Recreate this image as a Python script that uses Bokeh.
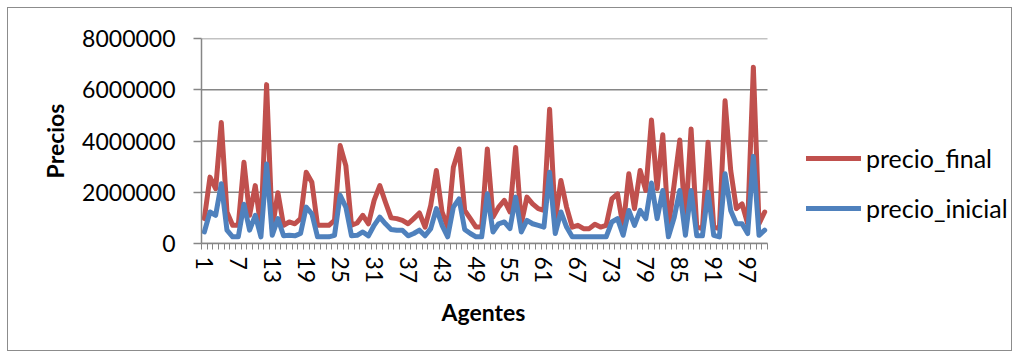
from bokeh.plotting import figure
from bokeh.models import (FixedTicker, BasicTickFormatter, Legend, LegendItem,
                          ColumnDataSource, Title)
from bokeh.embed import file_html
from bokeh.resources import INLINE

# Agent index and prices per agent
agentes = list(range(1, 101))
precio_final = [
    970000, 2590000, 2140000, 4720000, 1230000, 710000, 710000, 3170000, 1100000, 2260000,
    580000, 6200000, 580000, 1980000, 710000, 840000, 770000, 970000, 2780000, 2390000,
    710000, 710000, 710000, 900000, 3820000, 3040000, 710000, 800000, 1100000, 770000,
    1680000, 2260000, 1610000, 1000000, 970000, 900000, 770000, 970000, 1190000, 640000,
    1490000, 2850000, 1230000, 640000, 2980000, 3690000, 1290000, 970000, 640000, 640000,
    3690000, 1030000, 1420000, 1680000, 1230000, 3750000, 770000, 1810000, 1550000, 1360000,
    1290000, 5240000, 900000, 2460000, 1420000, 640000, 710000, 580000, 580000, 750000,
    640000, 710000, 1740000, 1940000, 640000, 2720000, 1360000, 2850000, 2070000, 4820000,
    2140000, 4240000, 640000, 2300000, 4040000, 770000, 4470000, 640000, 580000, 3950000,
    640000, 580000, 5570000, 2850000, 1360000, 1550000, 770000, 6880000, 770000, 1230000,
]
precio_inicial = [
    450000, 1230000, 1100000, 2330000, 520000, 260000, 260000, 1530000, 520000, 1100000,
    260000, 3100000, 320000, 970000, 300000, 320000, 300000, 390000, 1420000, 1160000,
    260000, 260000, 260000, 320000, 1880000, 1420000, 300000, 320000, 450000, 300000,
    710000, 1030000, 770000, 550000, 520000, 520000, 300000, 390000, 520000, 300000,
    580000, 1360000, 710000, 260000, 1420000, 1740000, 550000, 390000, 260000, 260000,
    1940000, 450000, 770000, 840000, 580000, 1810000, 450000, 900000, 770000, 710000,
    640000, 2780000, 390000, 1230000, 640000, 260000, 260000, 260000, 260000, 260000,
    260000, 260000, 840000, 970000, 320000, 1290000, 710000, 1290000, 970000, 2360000,
    970000, 2070000, 260000, 1000000, 2070000, 320000, 2070000, 300000, 300000, 2000000,
    320000, 260000, 2720000, 1290000, 770000, 770000, 390000, 3400000, 320000, 520000,
]
y_ticks = [0, 2000000, 4000000, 6000000, 8000000]
x_tick_labels = list(range(1, 101, 6))

FONT = "Lato"
GREY = "#868686"
RED = "#C0504D"
BLUE = "#4F81BD"

N = len(agentes)
X_START, X_END = 0.5, N + 0.5
# the frame also hosts the legend to the right of the category area
PLOT_W = 566          # pixels used by the 100 categories
FRAME_W = 812
x_view_end = X_START + (X_END - X_START) * FRAME_W / PLOT_W

source = ColumnDataSource(dict(agente=agentes, final=precio_final, inicial=precio_inicial))

p = figure(
    width=1005, height=344,
    x_range=(X_START, x_view_end), y_range=(0, 8000000),
    output_backend="svg", toolbar_location=None,
    min_border_left=193, min_border_right=0,
    min_border_top=30, min_border_bottom=109,
)
p.margin = (7, 0, 0, 7)
p.styles = {"border": "1px solid #8c8c8c"}
p.outline_line_color = None
p.background_fill_color = "white"
p.border_fill_color = "white"

# value axis
yax = p.yaxis[0]
yax.ticker = FixedTicker(ticks=y_ticks)
yax.formatter = BasicTickFormatter(use_scientific=False)
yax.axis_line_color = GREY
yax.axis_line_width = 1.5
yax.major_tick_line_color = GREY
yax.major_tick_line_width = 1.5
yax.major_tick_out = 8
yax.major_tick_in = 0
yax.minor_tick_line_color = None
yax.major_label_standoff = 18
yax.major_label_text_font = FONT
yax.major_label_text_font_size = "23px"
yax.major_label_text_color = "black"
yax.axis_label = "Precios"
yax.axis_label_text_font = FONT
yax.axis_label_text_font_style = "bold"
yax.axis_label_text_font_size = "23px"
yax.axis_label_text_color = "black"
yax.axis_label_standoff = 10

# category axis: ticks between agents, labels every sixth agent
xax = p.xaxis[0]
xax.bounds = (X_START, X_END)
xax.ticker = FixedTicker(ticks=x_tick_labels, minor_ticks=[i + 0.5 for i in range(0, N + 1)])
xax.axis_line_color = GREY
xax.axis_line_width = 1.5
xax.major_tick_line_color = None
xax.major_tick_out = 0
xax.major_tick_in = 0
xax.minor_tick_line_color = GREY
xax.minor_tick_line_width = 1
xax.minor_tick_out = 6
xax.minor_tick_in = 0
xax.major_label_orientation = "vertical"
xax.major_label_standoff = 7
xax.major_label_text_font = FONT
xax.major_label_text_font_size = "23px"
xax.major_label_text_color = "black"

# category axis title, centred under the category area
p.add_layout(Title(text="Agentes", align="left", offset=240, standoff=19,
                   text_font=FONT, text_font_style="bold", text_font_size="23px",
                   text_color="black"), "below")

# horizontal gridlines limited to the category area
p.xgrid.grid_line_color = None
p.ygrid.grid_line_color = None
p.segment(x0=[X_START] * len(y_ticks), x1=[X_END] * len(y_ticks), y0=y_ticks, y1=y_ticks,
          line_color=GREY, line_width=1.5)

style = dict(line_width=5, line_join="round", line_cap="round")
r_final = p.line("agente", "final", source=source, line_color=RED, **style)
r_inicial = p.line("agente", "inicial", source=source, line_color=BLUE, **style)

legend = Legend(
    items=[LegendItem(label="precio_final", renderers=[r_final]),
           LegendItem(label="precio_inicial", renderers=[r_inicial])],
    location=(605, 20),
    border_line_color=None,
    background_fill_alpha=0,
    padding=0, margin=0,
    spacing=20,
    glyph_width=55, glyph_height=28,
    label_height=28,
    label_standoff=5,
    label_text_font=FONT,
    label_text_font_size="25px",
    label_text_color="black",
)
p.add_layout(legend, "center")

open("out.html", "w").write(file_html(p, INLINE))
